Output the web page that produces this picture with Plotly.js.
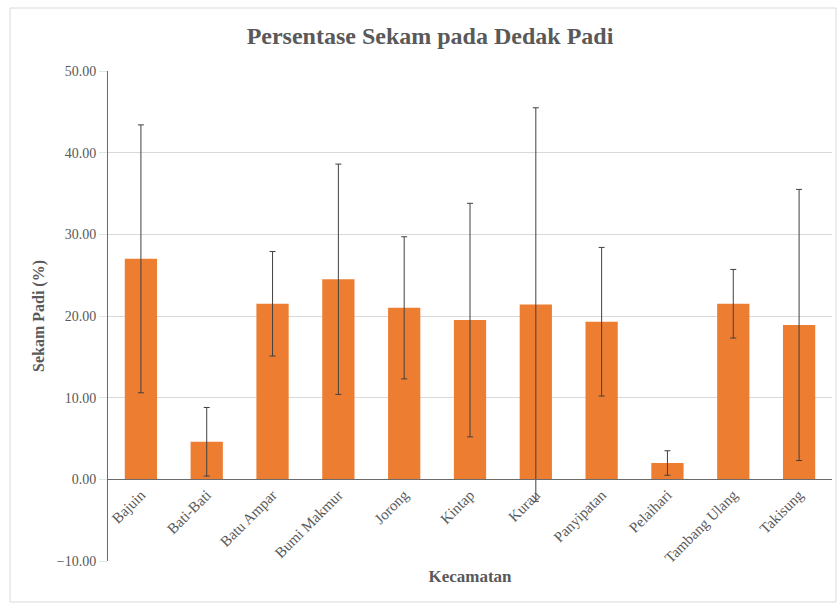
<!DOCTYPE html>
<html>
<head>
<meta charset="utf-8">
<script src="https://cdn.plot.ly/plotly-3.0.1.min.js"></script>
<style>
  html, body { margin: 0; padding: 0; background: #ffffff; }
  #chart { width: 839px; height: 606px; }
</style>
</head>
<body>
<div id="chart"></div>
<script>
// Data
const kecamatan = ["Bajuin", "Bati-Bati", "Batu Ampar", "Bumi Makmur", "Jorong", "Kintap", "Kurau", "Panyipatan", "Pelaihari", "Tambang Ulang", "Takisung"];
const sekamPadi = [27.0, 4.6, 21.5, 24.5, 21.0, 19.5, 21.4, 19.3, 2.0, 21.5, 18.9];
const galat = [16.4, 4.2, 6.4, 14.1, 8.7, 14.3, 24.1, 9.1, 1.5, 4.2, 16.6];
const yTicks = [-10, 0, 10, 20, 30, 40, 50];

const serif = "Liberation Serif, Times New Roman, serif";
const grey = "#595959";

const trace = {
  type: "bar",
  x: kecamatan,
  y: sekamPadi,
  marker: { color: "#ED7D31" },
  error_y: {
    type: "data",
    array: galat,
    symmetric: true,
    visible: true,
    color: "#404040",
    thickness: 1,
    width: 3
  },
  hoverinfo: "x+y"
};

const layout = {
  width: 839,
  height: 606,
  margin: { l: 108, r: 7, t: 71, b: 45, autoexpand: false },
  paper_bgcolor: "#ffffff",
  plot_bgcolor: "#ffffff",
  font: { family: serif, color: grey },
  showlegend: false,
  bargap: 0.51,
  title: {
    text: "Persentase Sekam pada Dedak Padi",
    font: { family: serif, size: 24, color: grey, weight: "bold" },
    x: 0.5125, xref: "container", xanchor: "center",
    y: 0.942, yref: "container", yanchor: "middle"
  },
  xaxis: {
    type: "category",
    anchor: "free",
    position: 10 / 60,
    showline: true,
    linecolor: "#6b6b6b",
    linewidth: 1,
    ticks: "",
    tickangle: -45,
    tickfont: { family: serif, size: 15, color: grey },
    showgrid: false,
    zeroline: false,
    automargin: false,
    title: {
      text: "Kecamatan",
      font: { family: serif, size: 17, color: grey, weight: "bold" },
      standoff: 4
    }
  },
  yaxis: {
    range: [-10, 50],
    tickvals: yTicks,
    tickformat: ".2f",
    showgrid: true,
    gridcolor: "#d9d9d9",
    gridwidth: 1,
    zeroline: false,
    showline: true,
    linecolor: "#6b6b6b",
    linewidth: 1,
    ticks: "outside",
    ticklen: 8,
    tickcolor: "#e3e3e3",
    tickfont: { family: serif, size: 14, color: grey },
    automargin: false,
    title: {
      text: "Sekam Padi (%)",
      font: { family: serif, size: 16, color: grey, weight: "bold" },
      standoff: 8
    }
  },
  shapes: [
    {
      type: "rect", xref: "paper", yref: "paper",
      x0: (10 - 108) / 724, x1: (836 - 108) / 724,
      y0: (561 - 602) / 490, y1: (561 - 8) / 490,
      line: { color: "#d9d9d9", width: 1 },
      fillcolor: "rgba(0,0,0,0)",
      layer: "below"
    }
  ]
};

Plotly.newPlot("chart", [trace], layout, { displayModeBar: false, staticPlot: true });
</script>
</body>
</html>
